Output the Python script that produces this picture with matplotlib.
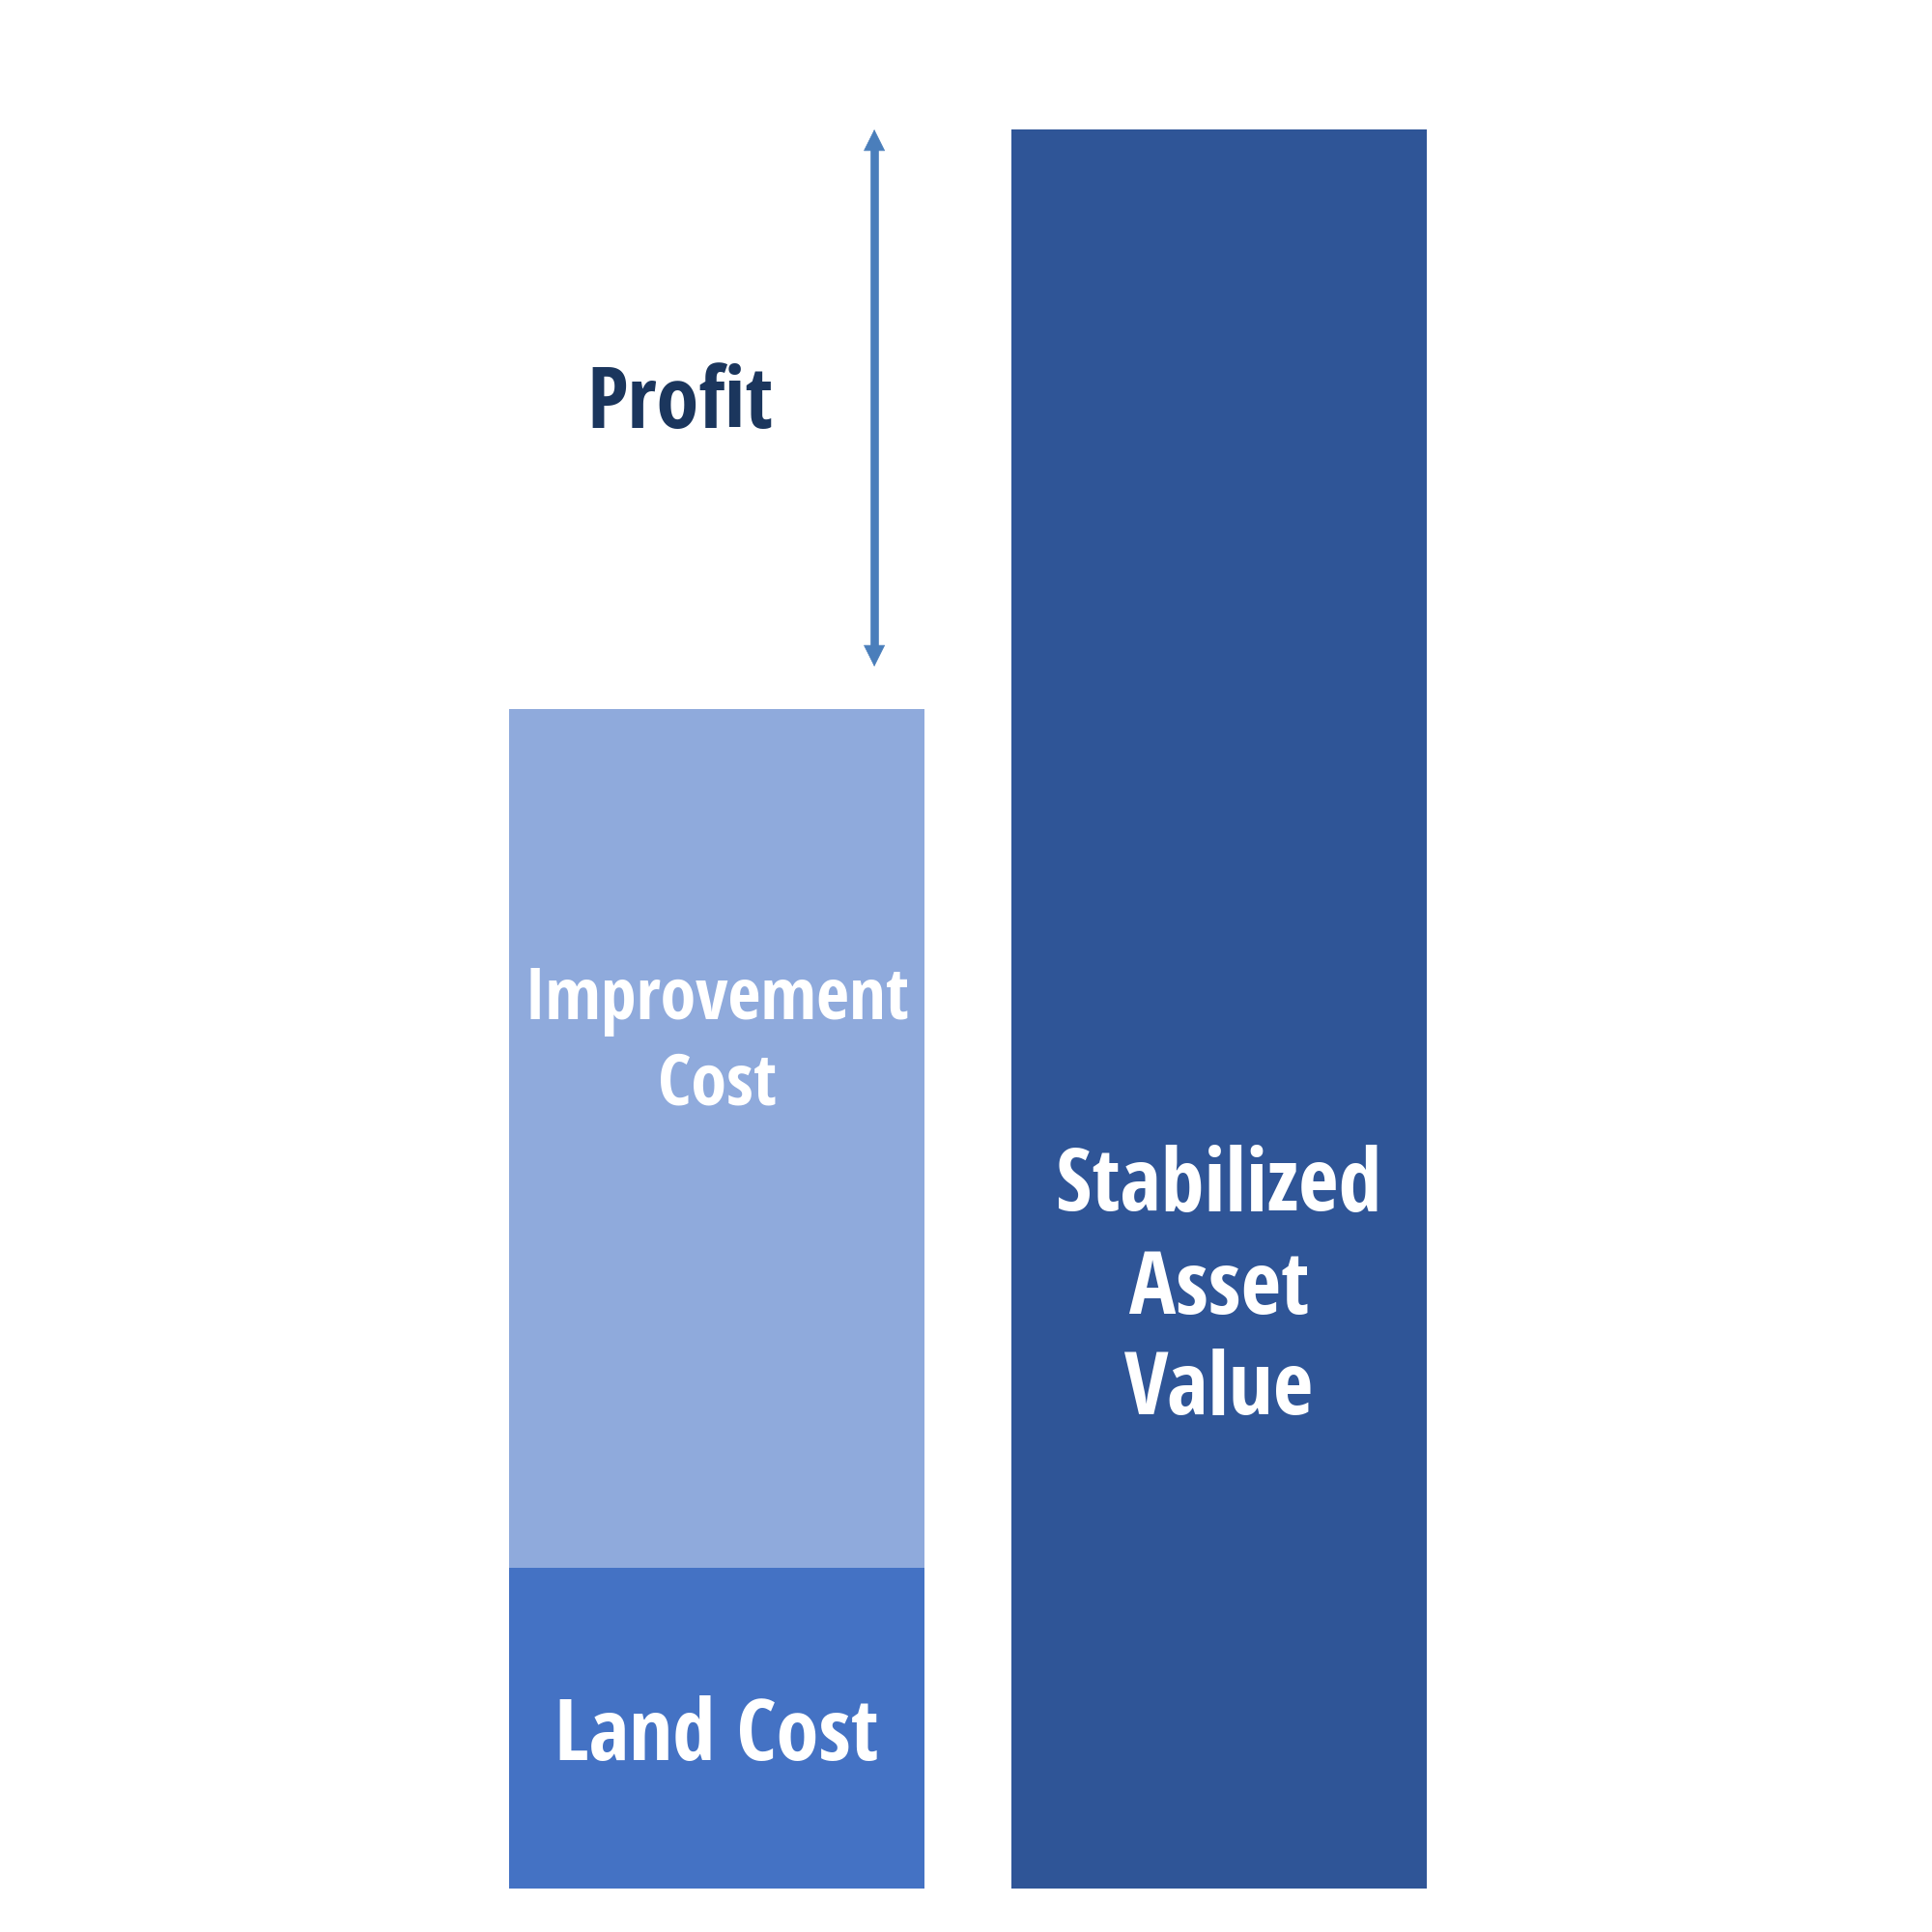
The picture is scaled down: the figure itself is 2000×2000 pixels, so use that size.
import matplotlib
matplotlib.use("Agg")
import matplotlib.pyplot as plt

# Data (arbitrary units, base = bottom of bars)
categories = ["Total Cost", "Stabilized Asset Value"]
land_cost = [332, 0]
improvement_cost = [889, 0]
stabilized_value = [0, 1821]
profit_gap = 44  # gap between top of cost stack and arrow tail

family = ["Open Sans Condensed", "Fira Sans Condensed", "DejaVu Sans"]

fig = plt.figure(figsize=(20, 20), dpi=100)
ax = fig.add_axes([0, 0, 1, 1])
ax.set_xlim(-1.427, 2.419)
ax.set_ylim(-45, 1955)
ax.axis("off")

w = 0.827
ax.bar(0, land_cost[0], width=w, color="#4472C4")
ax.bar(0, improvement_cost[0], bottom=land_cost[0], width=w, color="#8FAADC")
ax.bar(1, stabilized_value[1], width=w, color="#2F5597")

total_cost = land_cost[0] + improvement_cost[0]
ax_x = 0.3135
y0, y1 = total_cost + profit_gap, stabilized_value[1]
ax.plot([ax_x, ax_x], [y0 + 15, y1 - 15], color="#4A7EBB", lw=6.2, solid_capstyle="butt")
for a, b in [(y1 - 16, y1), (y0 + 16, y0)]:
    ax.annotate("", xy=(ax_x, b), xytext=(ax_x, a),
                arrowprops=dict(arrowstyle="-|>,head_length=0.4,head_width=0.2", color="#4A7EBB",
                                lw=0.5, mutation_scale=38, shrinkA=0, shrinkB=0))

tkw = dict(fontfamily=family, fontweight="bold", ha="center", va="baseline")
ax.text(0, 1955 - 1822, "Land Cost", color="white", fontsize=64, **tkw)
ax.text(0, 1955 - 1055, "Improvement", color="white", fontsize=53.5, **tkw)
ax.text(0, 1955 - 1143, "Cost", color="white", fontsize=53.5, **tkw)
for txt, yb in [("Stabilized", 1253), ("Asset", 1360), ("Value", 1464)]:
    ax.text(1, 1955 - yb, txt, color="white", fontsize=65, **tkw)
ax.text(-0.073, 1955 - 443, "Profit", color="#1B365D", fontsize=64, **tkw)

fig.savefig("out.png", dpi=100, facecolor="white")
